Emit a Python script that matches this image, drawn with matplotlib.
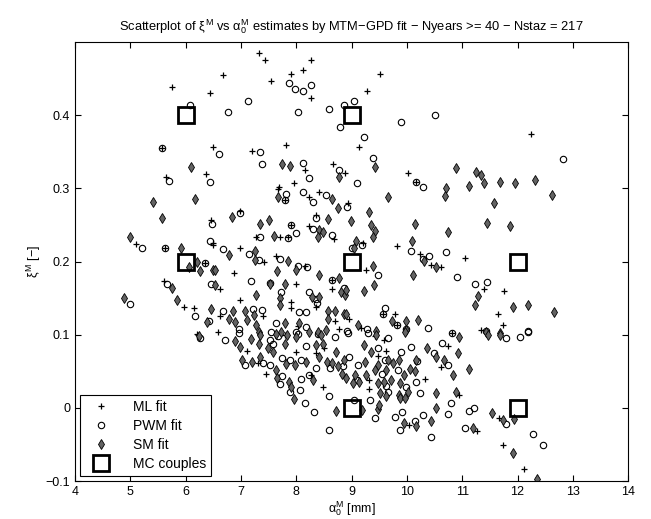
import matplotlib
matplotlib.use('Agg')
import matplotlib.pyplot as plt
import numpy as np

plt.rcParams['font.family'] = ['Liberation Sans', 'DejaVu Sans']
plt.rcParams['mathtext.fontset'] = 'custom'
plt.rcParams['mathtext.rm'] = 'Liberation Sans'
plt.rcParams['mathtext.it'] = 'Liberation Sans'

# ML fit estimates (alpha0, xi)
ml_alpha = [7.33, 7.44, 6.67, 5.75, 6.45, 5.58, 6.50, 7.21, 5.64, 6.37,
            8.27, 8.12, 7.90, 7.55, 8.27, 9.52, 9.28, 9.14, 7.81, 8.15,
            8.67, 8.89, 10.02, 10.17, 7.69, 7.96, 12.25,
            5.11, 5.63, 6.36, 6.46, 6.50, 5.61, 5.98, 6.15, 6.21,
            7.68, 7.79, 8.24, 8.42, 6.98, 8.35, 7.90, 8.23, 8.69, 7.28,
            7.70, 7.86, 6.49, 6.99, 7.41, 7.64, 8.15, 6.87, 7.99, 8.65,
            8.65, 6.62, 6.99, 7.90, 7.91, 8.35, 8.71, 6.62, 7.40, 6.58,
            8.03, 8.77,
            8.94, 9.20, 9.83, 10.23, 10.43, 10.61, 11.05, 9.27, 11.39, 9.56,
            9.78, 8.96, 9.83, 9.17, 10.82, 11.34,
            11.75, 11.64, 11.73, 6.22,
            7.11, 7.31, 7.46, 7.80, 7.99, 8.26, 8.48, 8.50, 8.35,
            9.42, 9.59, 9.63, 10.75, 10.62, 9.48, 10.32, 9.32, 9.31, 10.03,
            10.95, 11.27, 11.66, 11.73, 12.11]
ml_xi = [0.485, 0.476, 0.455, 0.438, 0.430, 0.355, 0.357, 0.351, 0.315, 0.319,
         0.475, 0.462, 0.456, 0.447, 0.424, 0.457, 0.433, 0.357, 0.359, 0.325,
         0.334, 0.321, 0.321, 0.309, 0.302, 0.307, 0.374,
         0.224, 0.218, 0.198, 0.257, 0.225, 0.173, 0.138, 0.136, 0.101,
         0.299, 0.284, 0.288, 0.295, 0.269, 0.264, 0.250, 0.248, 0.231, 0.234,
         0.233, 0.233, 0.223, 0.219, 0.199, 0.208, 0.194, 0.185, 0.170, 0.175,
         0.163, 0.163, 0.147, 0.145, 0.137, 0.138, 0.119, 0.126, 0.126, 0.104,
         0.112, 0.108,
         0.280, 0.226, 0.221, 0.211, 0.195, 0.193, 0.205, 0.188, 0.163, 0.128,
         0.129, 0.122, 0.114, 0.109, 0.103, 0.106,
         0.160, 0.128, 0.113, 0.100,
         0.078, 0.061, 0.047, 0.100, 0.077, 0.045, 0.029, 0.082, 0.075,
         0.098, 0.093, 0.078, 0.085, 0.056, 0.071, 0.039, 0.038, 0.026, -0.023,
         0.018, -0.031, -0.014, -0.050, -0.084]

# PWM fit estimates
pwm_alpha = [7.13, 6.76, 6.08, 5.58, 6.60, 7.35, 7.39, 5.71, 6.45,
             7.87, 7.97, 8.12, 8.27, 9.05, 8.87, 8.04, 8.59, 8.80, 9.22,
             9.90, 10.50, 8.12, 8.24, 8.78, 9.39, 10.17, 10.29, 9.09, 12.83,
             5.22, 5.63, 6.36, 6.48, 6.45, 5.67, 6.46, 4.99, 6.18, 6.43,
             7.82, 7.79, 8.13, 8.30, 8.53, 8.91, 6.98, 8.36, 7.90, 8.30,
             8.65, 7.35, 7.99, 7.85, 6.67, 7.14, 7.32, 7.70, 8.03, 8.19,
             7.19, 7.53, 8.65, 8.24, 8.35, 7.72, 8.87, 8.05, 8.17, 8.37,
             6.67, 7.22, 7.39, 6.96, 7.64, 8.18, 7.99, 7.54,
             9.01, 9.19, 10.07, 10.40, 10.29, 10.71, 9.48, 10.90, 11.24, 11.44,
             9.60, 9.56, 9.83, 9.28, 10.38, 10.82, 11.43, 8.92, 12.18, 6.27,
             6.72, 6.96, 7.08, 7.40, 7.52, 7.52, 7.67, 7.58, 7.75, 7.88,
             8.17, 8.04, 7.75, 7.70, 7.88, 8.07, 8.15, 8.09, 8.09, 8.23,
             8.35, 8.60, 8.32, 8.59, 8.39, 8.61, 8.85, 8.71,
             8.93, 9.29, 9.66, 9.48, 10.07, 10.49, 10.63, 10.75, 9.89, 9.60,
             9.12, 9.55, 9.84, 10.18, 10.17, 8.95, 9.10, 9.63, 9.66, 9.99,
             10.23, 9.33, 9.05, 9.42, 9.78, 9.91, 9.87, 10.14, 10.29, 10.43,
             10.75, 10.79, 11.12, 11.21, 11.05, 9.98,
             11.80, 12.04, 12.19, 11.80, 12.28, 12.46]
pwm_xi = [0.420, 0.404, 0.414, 0.355, 0.347, 0.350, 0.334, 0.310, 0.309,
          0.444, 0.436, 0.433, 0.441, 0.420, 0.414, 0.405, 0.409, 0.384, 0.370,
          0.391, 0.400, 0.335, 0.314, 0.325, 0.342, 0.309, 0.302, 0.307, 0.340,
          0.219, 0.218, 0.198, 0.251, 0.228, 0.169, 0.169, 0.142, 0.126, 0.119,
          0.293, 0.284, 0.295, 0.282, 0.291, 0.275, 0.266, 0.260, 0.250, 0.245,
          0.236, 0.234, 0.239, 0.232, 0.217, 0.210, 0.202, 0.204, 0.194, 0.193,
          0.173, 0.171, 0.175, 0.158, 0.149, 0.158, 0.164, 0.131, 0.131, 0.143,
          0.132, 0.135, 0.134, 0.108, 0.116, 0.111, 0.104, 0.104,
          0.219, 0.223, 0.214, 0.208, 0.203, 0.213, 0.182, 0.179, 0.169, 0.172,
          0.137, 0.128, 0.114, 0.108, 0.109, 0.103, 0.105, 0.105, 0.105, 0.096,
          0.093, 0.103, 0.059, 0.061, 0.059, 0.093, 0.098, 0.088, 0.068, 0.065,
          0.085, 0.101, 0.043, 0.033, 0.022, 0.024, 0.007, 0.039, 0.065, 0.045,
          0.054, 0.016, -0.006, -0.030, 0.101, 0.054, 0.057, 0.097,
          0.102, 0.102, 0.095, 0.082, 0.083, 0.075, 0.089, 0.059, 0.076, 0.066,
          0.059, 0.047, 0.052, 0.064, 0.035, 0.069, 0.038, 0.030, 0.022, 0.029,
          0.020, 0.011, 0.011, -0.014, -0.013, -0.006, -0.030, -0.018, -0.010, -0.040,
          -0.008, 0.007, -0.004, 0.000, -0.028, 0.108,
          0.095, 0.097, 0.104, -0.022, -0.036, -0.051]

# SM fit estimates
sm_alpha = [6.10, 7.75, 7.89, 8.77, 9.43, 10.70,
            10.89, 11.25, 11.34, 11.12, 11.40, 11.69, 11.96, 12.31,
            5.42, 6.18, 5.57, 4.99, 5.91, 6.21, 6.07, 6.27, 6.49, 5.76,
            4.88, 5.85, 6.46, 6.39,
            7.68, 8.65, 8.75, 6.84, 7.35, 7.50, 8.57, 8.41, 8.48, 8.39,
            7.60, 6.78, 7.25, 7.25, 7.85, 7.99, 7.66, 6.54, 8.41, 7.52,
            7.79, 8.77, 6.54, 8.42, 8.28, 7.28, 7.70, 8.81, 8.89, 7.70,
            8.57, 8.71, 8.87, 8.57, 6.85, 6.78, 6.90, 7.08, 7.24, 7.11,
            7.28, 7.33, 7.79, 7.73, 8.05, 8.23, 8.39, 8.54,
            10.69, 9.66, 9.31, 8.99, 9.36, 9.42, 9.39, 10.15, 10.75, 11.45,
            9.08, 9.04, 10.09, 10.31, 10.53, 9.39, 10.11, 8.90, 9.40, 9.22,
            11.28, 11.24, 8.90, 9.73, 9.99, 10.21, 9.11, 9.45, 9.98,
            12.62, 11.58, 11.86, 11.92, 12.19, 12.66, 11.68, 11.43, 6.25,
            6.90, 6.99, 7.02, 7.21, 7.34, 7.19, 7.34, 7.33, 7.63, 7.49,
            7.58, 7.79, 7.84, 7.81, 7.97, 8.00, 7.63, 7.66, 7.87, 7.91,
            7.96, 8.17, 8.31, 8.72, 8.36, 8.49, 8.42, 8.55, 8.65, 8.72,
            8.75, 8.83, 8.87, 8.44,
            9.45, 9.97, 10.95, 9.22, 9.36, 10.37, 10.53, 10.92, 10.67, 11.12,
            10.83, 9.66, 9.85, 9.25, 9.06, 9.48, 9.42, 9.63, 9.75, 9.95,
            10.05, 10.14, 10.17, 8.90, 9.02, 9.14, 9.27, 9.48, 9.58, 9.72,
            9.52, 9.63, 9.87, 10.02, 9.85, 9.87, 9.96, 10.52, 10.88, 9.19,
            9.48, 9.50, 9.95, 10.17, 10.43, 10.52, 11.19,
            11.46, 11.68, 11.53, 11.73, 11.93, 11.92, 12.36]
sm_xi = [0.329, 0.333, 0.330, 0.316, 0.329, 0.300,
         0.328, 0.323, 0.318, 0.303, 0.307, 0.309, 0.308, 0.311,
         0.281, 0.285, 0.259, 0.233, 0.218, 0.199, 0.192, 0.187, 0.188, 0.164,
         0.150, 0.147, 0.135, 0.117,
         0.288, 0.286, 0.273, 0.261, 0.252, 0.257, 0.258, 0.243, 0.240, 0.234,
         0.235, 0.209, 0.215, 0.202, 0.201, 0.188, 0.187, 0.188, 0.182, 0.170,
         0.169, 0.177, 0.168, 0.152, 0.152, 0.154, 0.150, 0.159, 0.154, 0.140,
         0.132, 0.132, 0.129, 0.122, 0.132, 0.122, 0.118, 0.132, 0.127, 0.120,
         0.113, 0.104, 0.116, 0.104, 0.116, 0.104, 0.104, 0.106,
         0.290, 0.288, 0.268, 0.255, 0.250, 0.242, 0.234, 0.251, 0.240, 0.253,
         0.228, 0.218, 0.228, 0.201, 0.193, 0.194, 0.182, 0.161, 0.168, 0.160,
         0.153, 0.141, 0.129, 0.119, 0.119, 0.120, 0.113, 0.105, 0.106,
         0.291, 0.280, 0.249, 0.138, 0.141, 0.131, 0.102, 0.104, 0.098,
         0.091, 0.083, 0.065, 0.063, 0.070, 0.094, 0.100, 0.088, 0.101, 0.082,
         0.077, 0.087, 0.100, 0.060, 0.059, 0.097, 0.052, 0.041, 0.035, 0.028,
         0.012, 0.063, 0.038, -0.004, 0.086, 0.087, 0.069, 0.063, 0.061, 0.077,
         0.057, 0.047, 0.066, 0.100,
         0.100, 0.104, 0.097, 0.086, 0.076, 0.082, 0.070, 0.075, 0.066, 0.053,
         0.045, 0.066, 0.066, 0.063, 0.045, 0.059, 0.052, 0.052, 0.061, 0.045,
         0.053, 0.050, 0.065, 0.041, 0.034, 0.036, 0.045, 0.034, 0.036, 0.038,
         0.020, 0.016, 0.034, 0.022, 0.018, 0.013, 0.013, 0.021, 0.022, -0.003,
         -0.002, 0.004, -0.021, -0.025, -0.018, 0.000, -0.028,
         0.100, 0.100, -0.007, -0.016, -0.015, -0.062, -0.097]

# Monte Carlo couples
mc_alpha = [6, 9, 6, 9, 12, 9, 12]
mc_xi = [0.4, 0.4, 0.2, 0.2, 0.2, 0.0, 0.0]

fig = plt.figure(figsize=(6.51, 5.19), dpi=100)
ax = fig.add_axes([0.115, 0.073, 0.85, 0.846])

ax.plot(ml_alpha, ml_xi, '+', color='black', markersize=5, markeredgewidth=0.9,
        label='ML fit')
ax.plot(pwm_alpha, pwm_xi, 'o', markerfacecolor='none', markeredgecolor='black',
        markersize=4.6, markeredgewidth=0.8, label='PWM fit')
ax.plot(sm_alpha, sm_xi, 'd', markerfacecolor='#636363', markeredgecolor='black',
        markersize=5.3, markeredgewidth=0.6, label='SM fit')
ax.plot(mc_alpha, mc_xi, 's', markerfacecolor='none', markeredgecolor='black',
        markersize=11, markeredgewidth=2, label='MC couples')

ax.set_xlim(4, 14)
ax.set_ylim(-0.1, 0.5)
ax.set_xticks(np.arange(4, 15, 1))
ax.set_yticks([-0.1, 0, 0.1, 0.2, 0.3, 0.4])
ax.set_yticklabels(['\u22120.1', '0', '0.1', '0.2', '0.3', '0.4'])
ax.tick_params(direction='in', top=True, right=True, labelsize=9, length=4)

ax.set_title(r'Scatterplot of $\xi^{\mathrm{M}}$ vs $\alpha_0^{\mathrm{M}}$ estimates by '
             'MTM\u2212GPD fit \u2212 Nyears >= 40 \u2212 Nstaz = 217',
             fontsize=9.3, pad=8)
ax.set_xlabel(r'$\alpha_0^{\mathrm{M}}$ [mm]', fontsize=9, labelpad=1)
ax.set_ylabel(r'$\xi^{\mathrm{M}}$ [' + '\u2212]', fontsize=9, labelpad=2)

leg = ax.legend(loc='lower left', fontsize=10, fancybox=False, framealpha=1,
                edgecolor='black', borderaxespad=0.4, handletextpad=1.2,
                borderpad=0.35, labelspacing=0.35, handlelength=2.2)
leg.get_frame().set_linewidth(0.8)

fig.savefig('out.png', dpi=100)
